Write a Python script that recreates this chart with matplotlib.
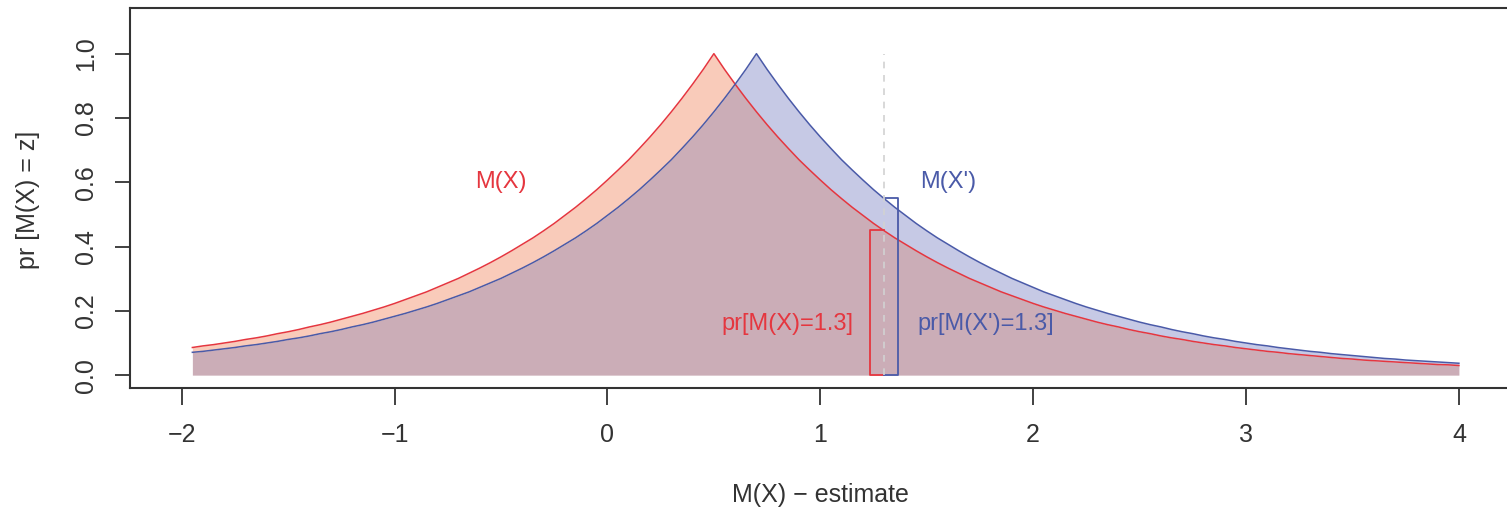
import numpy as np
import matplotlib
matplotlib.use('Agg')
import matplotlib.pyplot as plt

# grid of estimate values (step 0.05 from -1.95 to 4.0)
x_grid = np.round(np.linspace(-1.95, 4.0, 120), 2)

# pr[M(X) = z], peak at 0.5
red_vals = [
    0.086, 0.091, 0.095, 0.100, 0.105, 0.111, 0.116, 0.122, 0.129, 0.135,
    0.142, 0.150, 0.157, 0.165, 0.174, 0.183, 0.192, 0.202, 0.212, 0.223,
    0.235, 0.247, 0.259, 0.273, 0.287, 0.301, 0.317, 0.333, 0.350, 0.368,
    0.387, 0.407, 0.427, 0.449, 0.472, 0.497, 0.522, 0.549, 0.577, 0.607,
    0.638, 0.670, 0.705, 0.741, 0.779, 0.819, 0.861, 0.905, 0.951, 1.000,
    0.951, 0.905, 0.861, 0.819, 0.779, 0.741, 0.705, 0.670, 0.638, 0.607,
    0.577, 0.549, 0.522, 0.497, 0.472, 0.449, 0.427, 0.407, 0.387, 0.368,
    0.350, 0.333, 0.317, 0.301, 0.287, 0.273, 0.259, 0.247, 0.235, 0.223,
    0.212, 0.202, 0.192, 0.183, 0.174, 0.165, 0.157, 0.150, 0.142, 0.135,
    0.129, 0.122, 0.116, 0.111, 0.105, 0.100, 0.095, 0.091, 0.086, 0.082,
    0.078, 0.074, 0.071, 0.067, 0.064, 0.061, 0.058, 0.055, 0.052, 0.050,
    0.047, 0.045, 0.043, 0.041, 0.039, 0.037, 0.035, 0.033, 0.032, 0.030,
]

# pr[M(X') = z], peak at 0.7
blue_vals = [
    0.071, 0.074, 0.078, 0.082,
    0.086, 0.091, 0.095, 0.100, 0.105, 0.111, 0.116, 0.122, 0.129, 0.135,
    0.142, 0.150, 0.157, 0.165, 0.174, 0.183, 0.192, 0.202, 0.212, 0.223,
    0.235, 0.247, 0.259, 0.273, 0.287, 0.301, 0.317, 0.333, 0.350, 0.368,
    0.387, 0.407, 0.427, 0.449, 0.472, 0.497, 0.522, 0.549, 0.577, 0.607,
    0.638, 0.670, 0.705, 0.741, 0.779, 0.819, 0.861, 0.905, 0.951, 1.000,
    0.951, 0.905, 0.861, 0.819, 0.779, 0.741, 0.705, 0.670, 0.638, 0.607,
    0.577, 0.549, 0.522, 0.497, 0.472, 0.449, 0.427, 0.407, 0.387, 0.368,
    0.350, 0.333, 0.317, 0.301, 0.287, 0.273, 0.259, 0.247, 0.235, 0.223,
    0.212, 0.202, 0.192, 0.183, 0.174, 0.165, 0.157, 0.150, 0.142, 0.135,
    0.129, 0.122, 0.116, 0.111, 0.105, 0.100, 0.095, 0.091, 0.086, 0.082,
    0.078, 0.074, 0.071, 0.067, 0.064, 0.061, 0.058, 0.055, 0.052, 0.050,
    0.047, 0.045, 0.043, 0.041, 0.039, 0.037,
]

z_obs = 1.3
bar_width = 0.065
bar_height = [0.45, 0.55]   # red (left of z), blue (right of z)

x_ticks = [-2, -1, 0, 1, 2, 3, 4]
y_ticks = [0.0, 0.2, 0.4, 0.6, 0.8, 1.0]

RED = '#E5363F'
BLUE = '#4A5AA8'
RED_FILL = '#F9CBBA'
BLUE_FILL = '#C6C9E5'
BOTH_FILL = '#CBADB7'
AXC = '#333333'

plt.rcParams['font.family'] = ['Liberation Sans', 'DejaVu Sans']

fig = plt.figure(figsize=(15.07, 5.11), dpi=100)
ax = fig.add_axes([130 / 1507, 123 / 511, 1380 / 1507, 380 / 511])

red = np.array(red_vals)
blue = np.array(blue_vals)
low = np.minimum(red, blue)

ax.fill_between(x_grid, 0, low, color=BOTH_FILL, lw=0)
ax.fill_between(x_grid, low, red, color=RED_FILL, lw=0)
ax.fill_between(x_grid, low, blue, color=BLUE_FILL, lw=0)
ax.plot(x_grid, red, color=RED, lw=1.1)
ax.plot(x_grid, blue, color=BLUE, lw=1.1)

# open brackets either side of the observed value
xl = z_obs - bar_width
xr = z_obs + bar_width
ax.plot([z_obs, xl, xl, z_obs], [0, 0, bar_height[0], bar_height[0]], color=RED, lw=1.3)
ax.plot([z_obs, xr, xr, z_obs], [0, 0, bar_height[1], bar_height[1]], color=BLUE, lw=1.3)

ax.plot([z_obs, z_obs], [0, 1.0], color='#D2D2D2', lw=1.2, linestyle=(0, (4, 4)))

ax.text(-0.5, 0.6, 'M(X)', color=RED, fontsize=17, ha='center', va='center')
ax.text(1.6, 0.6, "M(X')", color=BLUE, fontsize=17, ha='center', va='center')
ax.text(1.155, 0.16, 'pr[M(X)=1.3]', color=RED, fontsize=17, ha='right', va='center')
ax.text(1.455, 0.16, "pr[M(X')=1.3]", color=BLUE, fontsize=17, ha='left', va='center')

ax.set_xlim(-2.243, 4.24)
ax.set_ylim(-0.04, 1.142)
ax.set_xticks(x_ticks)
ax.set_xticklabels(['\u22122', '\u22121', '0', '1', '2', '3', '4'])
ax.set_yticks(y_ticks)
ax.set_yticklabels(['0.0', '0.2', '0.4', '0.6', '0.8', '1.0'], rotation=90, va='center')
ax.tick_params(axis='both', direction='out', length=12, width=1.3, color=AXC,
               labelsize=18, labelcolor=AXC)
ax.tick_params(axis='x', pad=13)
ax.tick_params(axis='y', length=11, pad=12)
for s in ['left', 'top', 'bottom']:
    ax.spines[s].set_color(AXC)
    ax.spines[s].set_linewidth(1.5)
ax.spines['right'].set_visible(False)

fig.text(820 / 1507, 1 - 495 / 511, 'M(X) \u2212 estimate',
         fontsize=18, color=AXC, ha='center', va='center')
fig.text(28 / 1507, 1 - 200 / 511, 'pr [M(X) = z]', fontsize=18, color=AXC,
         rotation=90, ha='center', va='center')

fig.savefig('out.png', dpi=100)
